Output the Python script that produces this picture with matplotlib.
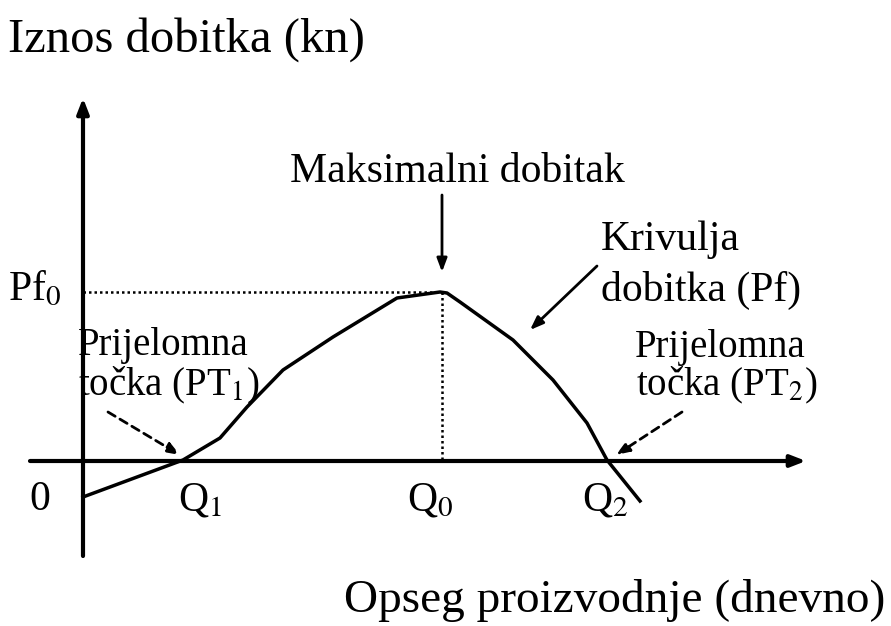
import numpy as np
import matplotlib.pyplot as plt

plt.rcParams['font.family'] = 'Liberation Serif'
plt.rcParams['mathtext.fontset'] = 'stix'

# Curve of profit (pixel coordinates, y downwards)
curve_x = [83, 183, 220, 247, 283, 333, 397, 440, 447, 460, 513, 553, 587, 607, 640]
curve_y = [497, 460, 438, 407, 370, 337, 298, 292, 293, 302, 340, 380, 423, 460, 501]

# Axes geometry
origin_x, origin_y = 83, 461
peak_x, peak_y = 442, 292

fig = plt.figure(figsize=(8.91, 6.26), dpi=100)
ax = fig.add_axes([0, 0, 1, 1])
ax.set_xlim(0, 891)
ax.set_ylim(626, 0)
ax.axis('off')

arrow_kw = dict(arrowstyle='-|>,head_length=0.9,head_width=0.35', color='black', lw=3,
                shrinkA=0, shrinkB=0)

# Coordinate axes
ax.annotate('', xy=(origin_x, 98), xytext=(origin_x, 556), arrowprops=arrow_kw)
ax.annotate('', xy=(806, origin_y), xytext=(30, origin_y), arrowprops=arrow_kw)

# Profit curve
ax.plot(curve_x, curve_y, color='black', lw=2.5)

# Dotted guide lines to the maximum
ax.plot([origin_x, peak_x], [peak_y, peak_y], color='black', lw=1.8, ls=(0, (1, 1.2)))
ax.plot([peak_x, peak_x], [peak_y, origin_y], color='black', lw=1.8, ls=(0, (1, 1.2)))

# Annotation arrows
small_arrow = dict(arrowstyle='-|>,head_length=0.8,head_width=0.3', color='black', lw=2,
                   shrinkA=0, shrinkB=0)
ax.annotate('', xy=(peak_x, 272), xytext=(peak_x, 195), arrowprops=small_arrow)
ax.annotate('', xy=(530, 330), xytext=(597, 266), arrowprops=small_arrow)
dashed_arrow = dict(small_arrow, ls=(0, (3, 2)))
ax.annotate('', xy=(180, 455), xytext=(108, 412), arrowprops=dashed_arrow)
ax.annotate('', xy=(616, 455), xytext=(682, 412), arrowprops=dashed_arrow)

# Texts
big = 35
mid = 30
small = 28
ax.text(8, 40, 'Iznos dobitka (kn)', fontsize=big, va='center', ha='left')
ax.text(885, 600, 'Opseg proizvodnje (dnevno)', fontsize=34, va='center', ha='right')
ax.text(290, 172, 'Maksimalni dobitak', fontsize=mid, va='center', ha='left')
ax.text(601, 240, 'Krivulja', fontsize=mid, va='center', ha='left')
ax.text(601, 290, 'dobitka (Pf)', fontsize=mid, va='center', ha='left')
ax.text(8, 290, r'Pf$_0$', fontsize=mid, va='center', ha='left')
ax.text(78, 345, 'Prijelomna', fontsize=small, va='center', ha='left')
ax.text(78, 385, r'točka (PT$_1$)', fontsize=small, va='center', ha='left')
ax.text(635, 347, 'Prijelomna', fontsize=small, va='center', ha='left')
ax.text(636, 385, r'točka (PT$_2$)', fontsize=small, va='center', ha='left')
ax.text(40, 500, '0', fontsize=mid, va='center', ha='center')
ax.text(200, 500, r'Q$_1$', fontsize=mid, va='center', ha='center')
ax.text(430, 500, r'Q$_0$', fontsize=mid, va='center', ha='center')
ax.text(605, 500, r'Q$_2$', fontsize=mid, va='center', ha='center')

fig.savefig('out.png', dpi=100)
